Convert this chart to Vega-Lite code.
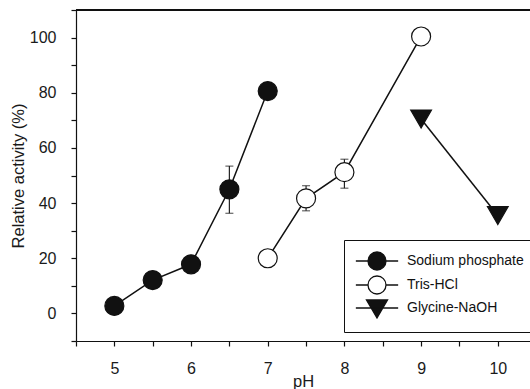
{
  "$schema": "https://vega.github.io/schema/vega-lite/v6.json",
  "width": 454,
  "height": 331,
  "autosize": {"type": "none"},
  "padding": {"left": 76, "top": 10, "right": 0, "bottom": 48},
  "background": "white",
  "config": {
    "font": "Liberation Sans",
    "view": {"stroke": null},
    "axis": {
      "grid": false,
      "domainColor": "#111",
      "domainWidth": 1.2,
      "tickColor": "#111",
      "tickWidth": 1.2,
      "tickSize": 5,
      "labelFont": "Liberation Sans",
      "labelFontSize": 16,
      "labelColor": "#1a1a1a",
      "labelOverlap": false,
      "labelFlush": false,
      "titleFont": "Liberation Sans",
      "titleFontSize": 16.5,
      "titleFontWeight": "normal",
      "titleColor": "#1a1a1a"
    },
    "legend": {
      "strokeColor": "#111",
      "padding": 11,
      "rowPadding": 0,
      "symbolOffset": 12,
      "labelOffset": 20,
      "labelFont": "Liberation Sans",
      "labelFontSize": 14,
      "labelColor": "#111",
      "labelLimit": 300,
      "symbolSize": 324,
      "symbolStrokeColor": "#111",
      "symbolStrokeWidth": 1.3
    }
  },
  "data": {
    "values": [
      {"series": "Sodium phosphate", "ph": 5, "activity": 2.7},
      {"series": "Sodium phosphate", "ph": 5.5, "activity": 12.1},
      {"series": "Sodium phosphate", "ph": 6, "activity": 17.8},
      {"series": "Sodium phosphate", "ph": 6.5, "activity": 45, "lo": 36.3, "hi": 53.4},
      {"series": "Sodium phosphate", "ph": 7, "activity": 80.6},
      {"series": "Tris-HCl", "ph": 7, "activity": 20},
      {"series": "Tris-HCl", "ph": 7.5, "activity": 41.7, "lo": 37.2, "hi": 46.3},
      {"series": "Tris-HCl", "ph": 8, "activity": 51.2, "lo": 45.4, "hi": 55.9},
      {"series": "Tris-HCl", "ph": 9, "activity": 100.4},
      {"series": "Glycine-NaOH", "ph": 9, "activity": 70.5},
      {"series": "Glycine-NaOH", "ph": 10, "activity": 35.5}
    ]
  },
  "encoding": {
    "x": {
      "field": "ph",
      "type": "quantitative",
      "title": "pH",
      "scale": {"domain": [4.5, 10.42], "nice": false, "zero": false},
      "axis": {
        "values": [4.5, 5, 5.5, 6, 6.5, 7, 7.5, 8, 8.5, 9, 9.5, 10],
        "labelExpr": "datum.value % 1 == 0 ? format(datum.value, 'd') : ''",
        "labelPadding": 14,
        "titlePadding": -3
      }
    },
    "y": {
      "field": "activity",
      "type": "quantitative",
      "title": "Relative activity (%)",
      "scale": {"domain": [-10, 110], "nice": false, "zero": false},
      "axis": {
        "values": [-10, 0, 10, 20, 30, 40, 50, 60, 70, 80, 90, 100, 110],
        "labelExpr": "datum.value % 20 == 0 ? format(datum.value, 'd') : ''",
        "labelPadding": 15,
        "titlePadding": 3
      }
    }
  },
  "resolve": {"scale": {"shape": "independent", "fill": "independent", "stroke": "independent"}},
  "layer": [
    {
      "mark": {"type": "rule", "color": "#111", "strokeWidth": 1.2},
      "encoding": {"x": null, "y": {"datum": 110, "type": "quantitative"}}
    },
    {
      "mark": {"type": "line", "color": "#111", "strokeWidth": 1.5},
      "encoding": {
        "detail": {"field": "series", "type": "nominal"},
        "order": {"field": "ph", "type": "quantitative"}
      }
    },
    {
      "transform": [{"filter": "isValid(datum.lo)"}],
      "mark": {"type": "rule", "color": "#222", "strokeWidth": 1.2},
      "encoding": {
        "y": {"field": "lo", "type": "quantitative", "title": "Relative activity (%)"},
        "y2": {"field": "hi"}
      }
    },
    {
      "transform": [{"filter": "isValid(datum.lo)"}],
      "mark": {"type": "tick", "color": "#222", "thickness": 1.2, "size": 8, "orient": "horizontal"},
      "encoding": {
        "y": {"field": "lo", "type": "quantitative", "title": "Relative activity (%)"}
      }
    },
    {
      "transform": [{"filter": "isValid(datum.lo)"}],
      "mark": {"type": "tick", "color": "#222", "thickness": 1.2, "size": 8, "orient": "horizontal"},
      "encoding": {
        "y": {"field": "hi", "type": "quantitative", "title": "Relative activity (%)"}
      }
    },
    {
      "transform": [{"filter": "datum.series !== 'Glycine-NaOH'"}],
      "mark": {"type": "point", "filled": true, "stroke": "#111", "strokeWidth": 1.2, "opacity": 1, "size": 361},
      "encoding": {
        "shape": {
          "field": "series",
          "type": "nominal",
          "scale": {"domain": ["Sodium phosphate", "Tris-HCl", "Glycine-NaOH"], "range": ["circle", "circle", "triangle-down"]},
          "legend": null
        },
        "fill": {
          "field": "series",
          "type": "nominal",
          "scale": {"domain": ["Sodium phosphate", "Tris-HCl", "Glycine-NaOH"], "range": ["#111", "white", "#111"]},
          "legend": null
        }
      }
    },
    {
      "transform": [{"filter": "datum.series === 'Glycine-NaOH'"}],
      "mark": {"type": "point", "filled": true, "stroke": "#111", "strokeWidth": 1.2, "opacity": 1, "size": 430, "shape": "triangle-down", "fill": "#111"},
      "encoding": {}
    },
    {
      "transform": [{"filter": "datum.ph > 100"}],
      "mark": {"type": "point", "filled": true, "strokeWidth": 1.3, "opacity": 1, "size": 324},
      "encoding": {
        "shape": {
          "field": "series",
          "type": "nominal",
          "scale": {
            "domain": ["Sodium phosphate", "Tris-HCl", "Glycine-NaOH"],
            "range": [
              "M-2.35,0H-1M1,0H2.35M-1,0A1,1,0,1,0,1,0A1,1,0,1,0,-1,0Z",
              "M-2.35,0H-1M1,0H2.35M-1,0A1,1,0,1,0,1,0A1,1,0,1,0,-1,0Z",
              "M-2.35,0H2.35M-1.17,-0.9L1.17,-0.9L0,1.1Z"
            ]
          },
          "legend": {"title": null, "orient": "none", "legendX": 268, "legendY": 230}
        },
        "fill": {
          "field": "series",
          "type": "nominal",
          "scale": {"domain": ["Sodium phosphate", "Tris-HCl", "Glycine-NaOH"], "range": ["#111", "white", "#111"]},
          "legend": {"title": null, "orient": "none", "legendX": 268, "legendY": 230}
        },
        "stroke": {
          "field": "series",
          "type": "nominal",
          "scale": {"domain": ["Sodium phosphate", "Tris-HCl", "Glycine-NaOH"], "range": ["#111", "#111", "#111"]},
          "legend": {"title": null, "orient": "none", "legendX": 268, "legendY": 230}
        }
      }
    }
  ]
}
